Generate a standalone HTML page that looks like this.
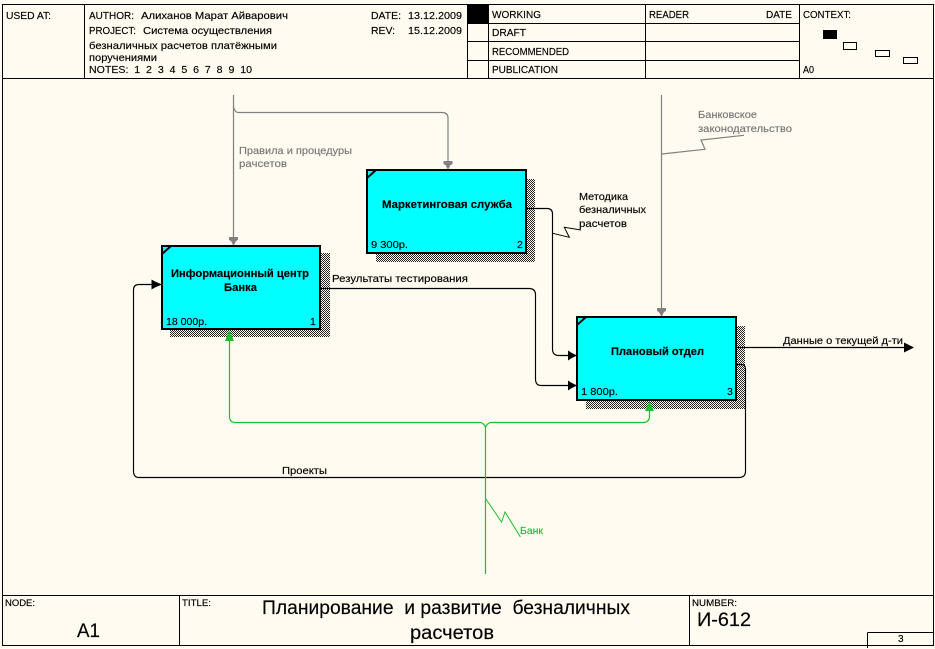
<!DOCTYPE html>
<html>
<head>
<meta charset="utf-8">
<style>
html,body{margin:0;padding:0;background:#fffbf0;width:935px;height:649px;overflow:hidden}
svg{display:block}
text{font-family:"Liberation Sans",sans-serif;font-size:10.5px;fill:#000;stroke:#000;stroke-width:.15px}
text.g{fill:#777;stroke:#777}
text.gr{fill:#1cc02c;stroke:#1cc02c}
.b{font-weight:bold;font-size:11px}
.l{fill:none;stroke:#000;stroke-width:1.15}
</style>
</head>
<body>
<svg width="935" height="649" viewBox="0 0 935 649" xmlns="http://www.w3.org/2000/svg">
<defs>
<pattern id="d" width="2" height="2" patternUnits="userSpaceOnUse">
<rect width="2" height="2" fill="#fffbf0" shape-rendering="crispEdges"/>
<rect width="1" height="1" fill="#222" shape-rendering="crispEdges"/>
<rect x="1" y="1" width="1" height="1" fill="#222" shape-rendering="crispEdges"/>
</pattern>
</defs>
<rect width="935" height="649" fill="#fffbf0"/>

<!-- frame -->
<g shape-rendering="crispEdges" fill="none" stroke="#000">
<rect x="2.5" y="4.5" width="931" height="641"/>
<path d="M2.500 78.500H933.500M2.500 595.500H933.500M84.500 4.500V78.500M467.500 4.500V78.500M488.500 4.500V78.500M645.500 4.500V78.500M799.500 4.500V78.500M467.500 23.500H799.500M467.500 41.500H799.500M467.500 60.500H799.500M179.500 595.500V645.500M689.500 595.500V645.500M867.500 632.500H933.500M867.500 632.500V648"/>
<rect x="468" y="5" width="20" height="18" fill="#000" stroke="none"/>
<rect x="823" y="30" width="14" height="9" fill="#000" stroke="none"/>
<rect x="843.500" y="42.500" width="13" height="7"/>
<rect x="875.500" y="50.500" width="14" height="6"/>
<rect x="903.500" y="57.500" width="14" height="6"/>
</g>

<!-- header text -->
<text x="6" y="19" textLength="45" lengthAdjust="spacingAndGlyphs">USED AT:</text>
<text x="89" y="19" textLength="45" lengthAdjust="spacingAndGlyphs">AUTHOR:</text>
<text x="141" y="19" textLength="147" lengthAdjust="spacingAndGlyphs">Алиханов Марат Айварович</text>
<text x="89" y="34" textLength="47" lengthAdjust="spacingAndGlyphs">PROJECT:</text>
<text x="143" y="34" textLength="129" lengthAdjust="spacingAndGlyphs">Система осуществления</text>
<text x="89" y="49" textLength="188" lengthAdjust="spacingAndGlyphs">безналичных расчетов платёжными</text>
<text x="89" y="61" textLength="68" lengthAdjust="spacingAndGlyphs">поручениями</text>
<text x="89" y="73" textLength="163" lengthAdjust="spacingAndGlyphs" xml:space="preserve">NOTES:  1  2  3  4  5  6  7  8  9  10</text>
<text x="371" y="19" textLength="30" lengthAdjust="spacingAndGlyphs">DATE:</text>
<text x="408" y="19" textLength="54" lengthAdjust="spacingAndGlyphs">13.12.2009</text>
<text x="371" y="34" textLength="24" lengthAdjust="spacingAndGlyphs">REV:</text>
<text x="408" y="34" textLength="54" lengthAdjust="spacingAndGlyphs">15.12.2009</text>
<text x="492" y="18" textLength="49" lengthAdjust="spacingAndGlyphs">WORKING</text>
<text x="492" y="36" textLength="34" lengthAdjust="spacingAndGlyphs">DRAFT</text>
<text x="492" y="55" textLength="77" lengthAdjust="spacingAndGlyphs">RECOMMENDED</text>
<text x="492" y="73" textLength="66" lengthAdjust="spacingAndGlyphs">PUBLICATION</text>
<text x="649" y="18" textLength="40" lengthAdjust="spacingAndGlyphs">READER</text>
<text x="766" y="18" textLength="26" lengthAdjust="spacingAndGlyphs">DATE</text>
<text x="803" y="18" textLength="48" lengthAdjust="spacingAndGlyphs">CONTEXT:</text>
<text x="803" y="73" textLength="11" lengthAdjust="spacingAndGlyphs">A0</text>

<!-- shadows -->
<g shape-rendering="crispEdges" fill="url(#d)">
<rect x="170" y="253" width="160" height="84"/>
<rect x="376" y="179" width="159" height="83"/>
<rect x="586" y="326" width="159" height="83"/>
</g>

<!-- gray arrows -->
<g fill="none" stroke="#808080" stroke-width="1.2">
<path d="M233.500 95V240"/>
<path d="M233.500 107Q235 112.500 238 112.500H442Q448 112.500 448 118V162"/>
<path d="M661.500 95V308"/>
<path d="M661.700 154L705 149.300L701 140L744 135.300"/>
</g>
<g fill="#808080">
<path d="M229 237H238V240L236 241L233.500 246L231 241L229 240Z"/>
<path d="M443.500 161H452.500V164L450.500 165L448 170L445.500 165L443.500 164Z"/>
<path d="M657 308H666V311L664 312L661.500 317L659 312L657 311Z"/>
</g>

<!-- black connectors -->
<g class="l">
<path d="M526 208.500H547Q552.500 208.500 552.500 214V349Q552.500 355.500 559 355.500H570"/>
<path d="M320 288.500H529Q535.500 288.500 535.500 295V379Q535.500 385.500 541 385.500H570"/>
<path d="M737 347.500H905"/>
<path d="M737 364.500H741Q745.500 364.500 745.500 369V471Q745.500 477.500 739 477.500H139Q133.500 477.500 133.500 471V290Q133.500 284.500 139 284.500H153"/>
</g>
<path d="M552.700 233.300L569.300 237.300L564.300 227.300L581 230" fill="none" stroke="#000"/>
<g fill="#000">
<path d="M568 350.500V360.500L571 358.500L577 355.500L571 352.500Z"/>
<path d="M568 380.500V390.500L571 388.500L577 385.500L571 382.500Z"/>
<path d="M151.500 279.500V289.500L155 287.500L162 284.500L155 281.500Z"/>
<path d="M904 342.500L914 347.500L904 352.500Z"/>
</g>

<!-- green connectors -->
<g fill="none" stroke="#1cc02c" stroke-width="1.2">
<path d="M485.500 574V428Q485.500 425 481 422.500H235Q229.500 422.500 229.500 416V340"/>
<path d="M485.500 428Q485.500 425 490 422.500H643Q649.500 422.500 649.500 416V410"/>
</g>
<path d="M485.300 498L501.600 522L505 512L520.400 537" fill="none" stroke="#1cc02c"/>
<g fill="#1cc02c">
<path d="M229.500 330L234 341H225Z"/>
<path d="M649.500 401L654 411H645Z"/>
</g>

<!-- boxes -->
<g fill="#00ffff" stroke="#000" stroke-width="2" shape-rendering="crispEdges">
<rect x="162" y="246" width="158" height="83"/>
<rect x="367" y="170" width="159" height="83"/>
<rect x="577" y="317" width="159" height="83"/>
</g>
<g stroke="#000" stroke-width="2" fill="none">
<path d="M162 254L171 246"/>
<path d="M367 178L376 170"/>
<path d="M577 325L586 317"/>
</g>

<!-- box text -->
<text class="b" x="171" y="277" textLength="138" lengthAdjust="spacingAndGlyphs">Информационный центр</text>
<text class="b" x="224" y="291" textLength="33" lengthAdjust="spacingAndGlyphs">Банка</text>
<text x="166" y="325" textLength="41" lengthAdjust="spacingAndGlyphs">18 000р.</text>
<text x="310" y="325">1</text>
<text class="b" x="382" y="208" textLength="130" lengthAdjust="spacingAndGlyphs">Маркетинговая служба</text>
<text x="371" y="248" textLength="37" lengthAdjust="spacingAndGlyphs">9 300р.</text>
<text x="517" y="248">2</text>
<text class="b" x="611" y="355" textLength="93" lengthAdjust="spacingAndGlyphs">Плановый отдел</text>
<text x="581" y="395" textLength="37" lengthAdjust="spacingAndGlyphs">1 800р.</text>
<text x="727" y="395">3</text>

<!-- labels -->
<text class="g" x="239" y="154" textLength="113" lengthAdjust="spacingAndGlyphs">Правила и процедуры</text>
<text class="g" x="239" y="167" textLength="48" lengthAdjust="spacingAndGlyphs">рачсетов</text>
<text class="g" x="698" y="118" textLength="59" lengthAdjust="spacingAndGlyphs">Банковское</text>
<text class="g" x="698" y="132" textLength="94" lengthAdjust="spacingAndGlyphs">законодательство</text>
<text x="579" y="200" textLength="49" lengthAdjust="spacingAndGlyphs">Методика</text>
<text x="579" y="213" textLength="67" lengthAdjust="spacingAndGlyphs">безналичных</text>
<text x="579" y="227" textLength="48" lengthAdjust="spacingAndGlyphs">расчетов</text>
<text x="332" y="282" textLength="136" lengthAdjust="spacingAndGlyphs">Результаты тестирования</text>
<text x="783" y="344" textLength="120" lengthAdjust="spacingAndGlyphs">Данные о текущей д-ти</text>
<text x="282" y="474" textLength="45" lengthAdjust="spacingAndGlyphs">Проекты</text>
<text class="gr" x="520" y="534" textLength="23" lengthAdjust="spacingAndGlyphs">Банк</text>

<!-- footer text -->
<text x="5" y="606" textLength="30" lengthAdjust="spacingAndGlyphs" style="font-size:9px">NODE:</text>
<text x="77" y="637" textLength="23" lengthAdjust="spacingAndGlyphs" style="font-size:19px">A1</text>
<text x="182" y="606" textLength="29" lengthAdjust="spacingAndGlyphs" style="font-size:9px">TITLE:</text>
<text x="262" y="614" textLength="368" lengthAdjust="spacingAndGlyphs" style="font-size:19px" xml:space="preserve">Планирование  и развитие  безналичных</text>
<text x="410" y="639" textLength="84" lengthAdjust="spacingAndGlyphs" style="font-size:19px">расчетов</text>
<text x="692" y="606" textLength="45" lengthAdjust="spacingAndGlyphs" style="font-size:9px">NUMBER:</text>
<text x="697" y="626" textLength="54" lengthAdjust="spacingAndGlyphs" style="font-size:19px">И-612</text>
<text x="898" y="642" style="font-size:10px">3</text>
</svg>
</body>
</html>
